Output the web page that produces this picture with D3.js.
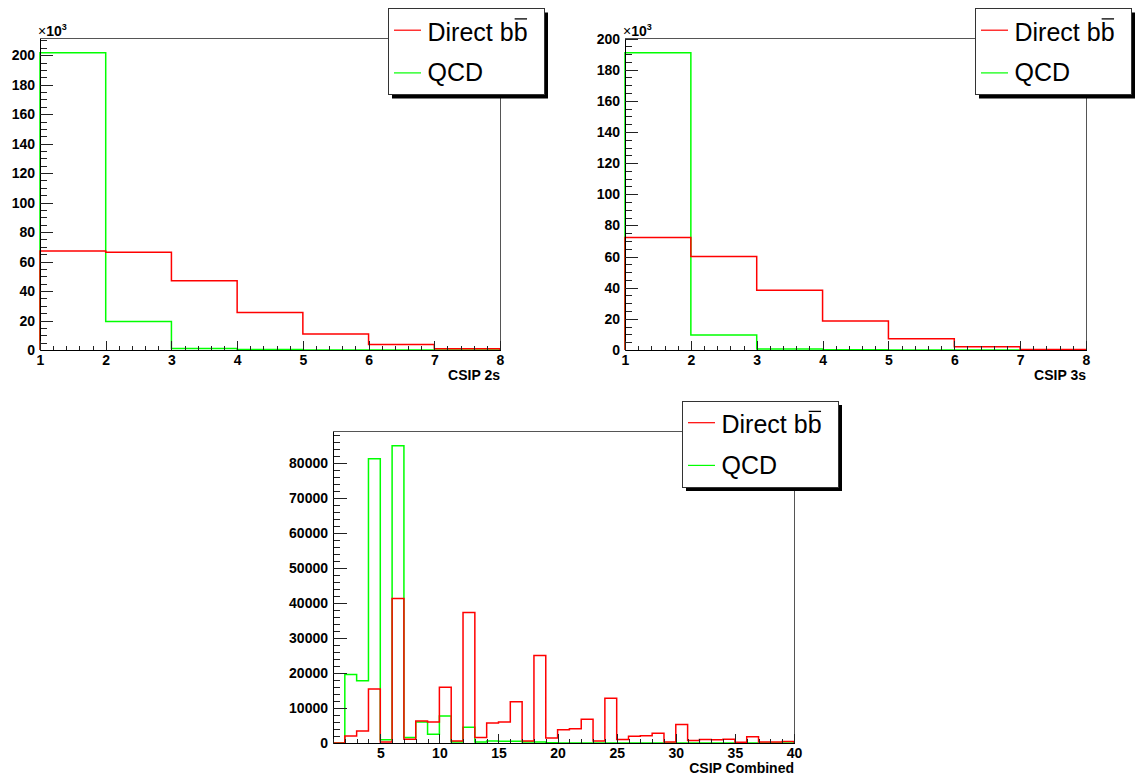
<!DOCTYPE html>
<html>
<head>
<meta charset="utf-8">
<script src="https://cdn.jsdelivr.net/npm/d3@7"></script>
<style>
  body { margin: 0; background: #fff; }
  svg { display: block; }
  text { font-family: "Liberation Sans", Arial, Helvetica, sans-serif; }
</style>
</head>
<body>
<svg id="canvas" width="1136" height="778"></svg>
<script>
// DATA (bin contents)
var csip2sEdges = [1, 2, 3, 4, 5, 6, 7, 8];
var csip2sBB  = [67200, 66400, 47000, 25500, 10800, 3800, 900];
var csip2sQCD = [201600, 19400, 1100, 300, 50, 0, 0];

var csip3sEdges = [1, 2, 3, 4, 5, 6, 7, 8];
var csip3sBB  = [72300, 60100, 38300, 18600, 7300, 2100, 400];
var csip3sQCD = [190800, 9600, 600, 100, 0, 0, 0];

var combEdges = d3.range(1, 41);
var combBB = [0, 2000, 3400, 15400, 300, 41300, 1100, 6300, 6000, 15900,
              600, 37300, 1600, 5700, 6000, 11800, 600, 25000, 1400, 3800,
              4100, 6800, 600, 12800, 1000, 1900, 2100, 2800, 300, 5300,
              700, 1000, 950, 1100, 200, 1800, 300, 300, 400];
var combQCD = [0, 19600, 17800, 81200, 900, 84900, 1600, 6000, 2500, 7700,
               300, 4500, 300, 600, 500, 500, 300, 300, 100, 0,
               0, 0, 0, 0, 0, 0, 0, 0, 0, 0,
               0, 0, 0, 0, 0, 0, 0, 0, 0];

var legendLabels = ["Direct b", "QCD"];
var seriesColors = ["#ff0000", "#00ff00"];

var svg = d3.select("#canvas");
svg.append("rect").attr("width", 1136).attr("height", 778).attr("fill", "#fff");

function histPoints(edges, vals) {
  var pts = [[edges[0], 0]];
  for (var i = 0; i < vals.length; i++) {
    pts.push([edges[i], vals[i]]);
    pts.push([edges[i + 1], vals[i]]);
  }
  pts.push([edges[edges.length - 1], 0]);
  return pts;
}

function drawPanel(p) {
  var g = svg.append("g");
  var ymax = d3.max(p.qcd.concat(p.bb)) * 1.05;
  var x = d3.scaleLinear().domain([p.edges[0], p.edges[p.edges.length - 1]]).range([p.x0, p.x1]);
  var y = d3.scaleLinear().domain([0, ymax]).range([p.y1, p.y0]);

  // frame
  g.append("rect")
    .attr("x", p.x0).attr("y", p.y0)
    .attr("width", p.x1 - p.x0).attr("height", p.y1 - p.y0)
    .attr("fill", "none").attr("stroke", "#555").attr("shape-rendering", "crispEdges");

  // histograms (QCD first, b-bbar on top)
  var line = d3.line().x(function(d) { return x(d[0]); }).y(function(d) { return y(d[1]); });
  g.append("path").attr("d", line(histPoints(p.edges, p.qcd)))
    .attr("fill", "none").attr("stroke", seriesColors[1]).attr("stroke-width", 1.5);
  g.append("path").attr("d", line(histPoints(p.edges, p.bb)))
    .attr("fill", "none").attr("stroke", seriesColors[0]).attr("stroke-width", 1.5);

  // y axis
  var yMinor = d3.range(0, ymax, p.yMinor);
  var ya2 = g.append("g").attr("transform", "translate(" + p.x0 + ",0)")
    .call(d3.axisLeft(y).tickValues(yMinor).tickSizeInner(-p.yTick / 2).tickSizeOuter(0).tickFormat(""));
  ya2.select(".domain").remove();
  var ya = g.append("g").attr("transform", "translate(" + p.x0 + ",0)")
    .call(d3.axisLeft(y).tickValues(p.yMajor).tickSizeInner(-p.yTick).tickSizeOuter(0)
      .tickPadding(5).tickFormat(p.yFmt));

  // x axis
  var xa2 = g.append("g").attr("transform", "translate(0," + p.y1 + ")")
    .call(d3.axisBottom(x).tickValues(p.xMinor).tickSizeInner(-4.5).tickSizeOuter(0).tickFormat(""));
  xa2.select(".domain").remove();
  var xa = g.append("g").attr("transform", "translate(0," + p.y1 + ")")
    .call(d3.axisBottom(x).tickValues(p.xMajor).tickSizeInner(-9).tickSizeOuter(0)
      .tickPadding(5).tickFormat(d3.format("d")));

  g.selectAll(".tick line").attr("stroke", "#222").attr("shape-rendering", "crispEdges");
  g.selectAll(".domain").attr("stroke", "#000").attr("shape-rendering", "crispEdges");
  g.selectAll(".tick text").attr("font-size", 14).attr("font-weight", "bold")
    .attr("font-family", "Liberation Sans, Arial, sans-serif").attr("fill", "#000");

  // axis title
  g.append("text").attr("x", p.x1).attr("y", p.y1 + 30)
    .attr("text-anchor", "end").attr("font-size", 14).attr("font-weight", "bold")
    .text(p.title);

  if (p.exp) {
    var t = g.append("text").attr("x", p.x0 - 2).attr("y", p.y0 - 2)
      .attr("font-size", 14).attr("font-weight", "bold");
    t.append("tspan").attr("font-weight", "normal").text("\u00d7");
    t.append("tspan").text("10");
    t.append("tspan").attr("font-size", 9).attr("dy", -6).text("3");
  }

  drawLegend(p.lx, p.ly);
}

function drawLegend(lx, ly) {
  var w = 156, h = 86;
  var g = svg.append("g");
  g.append("rect").attr("x", lx + 4).attr("y", ly + 4).attr("width", w).attr("height", h).attr("fill", "#000");
  g.append("rect").attr("x", lx).attr("y", ly).attr("width", w).attr("height", h)
    .attr("fill", "#fff").attr("stroke", "#333").attr("shape-rendering", "crispEdges");
  var rowLine = [21.7, 64.4], rowText = [32.4, 72.7];
  legendLabels.forEach(function(lab, i) {
    g.append("line").attr("x1", lx + 6).attr("x2", lx + 33)
      .attr("y1", ly + rowLine[i]).attr("y2", ly + rowLine[i])
      .attr("stroke", seriesColors[i]).attr("stroke-width", 1.2);
    var t = g.append("text").attr("x", lx + 39.5).attr("y", ly + rowText[i])
      .attr("font-size", 25).text(lab);
    if (i === 0) {
      t.append("tspan").text("b");
      var node = t.node();
      var total = node.getComputedTextLength();
      var bw = node.getSubStringLength(lab.length, 1);
      var xe = lx + 39.5 + total;
      g.append("line").attr("x1", xe - bw + 1).attr("x2", xe - 0.5)
        .attr("y1", ly + rowText[i] - 22).attr("y2", ly + rowText[i] - 22)
        .attr("stroke", "#000").attr("stroke-width", 1.3);
    }
  });
}

var k = function(d) { return d / 1000; };

drawPanel({
  edges: csip2sEdges, bb: csip2sBB, qcd: csip2sQCD,
  x0: 40, x1: 500, y0: 38, y1: 350,
  yMajor: d3.range(0, 200001, 20000), yMinor: 5000, yTick: 13, yFmt: k,
  xMajor: d3.range(1, 9), xMinor: d3.range(1, 8.01, 0.2),
  title: "CSIP 2s", exp: true, lx: 388, ly: 8.5
});

drawPanel({
  edges: csip3sEdges, bb: csip3sBB, qcd: csip3sQCD,
  x0: 625, x1: 1086, y0: 38, y1: 350,
  yMajor: d3.range(0, 200001, 20000), yMinor: 5000, yTick: 13, yFmt: k,
  xMajor: d3.range(1, 9), xMinor: d3.range(1, 8.01, 0.2),
  title: "CSIP 3s", exp: true, lx: 975, ly: 8.5
});

drawPanel({
  edges: combEdges, bb: combBB, qcd: combQCD,
  x0: 333, x1: 794, y0: 431, y1: 743,
  yMajor: d3.range(0, 80001, 10000), yMinor: 2000, yTick: 14, yFmt: d3.format("d"),
  xMajor: d3.range(5, 41, 5), xMinor: d3.range(1, 41),
  title: "CSIP Combined", exp: false, lx: 682, ly: 401
});
</script>
</body>
</html>
